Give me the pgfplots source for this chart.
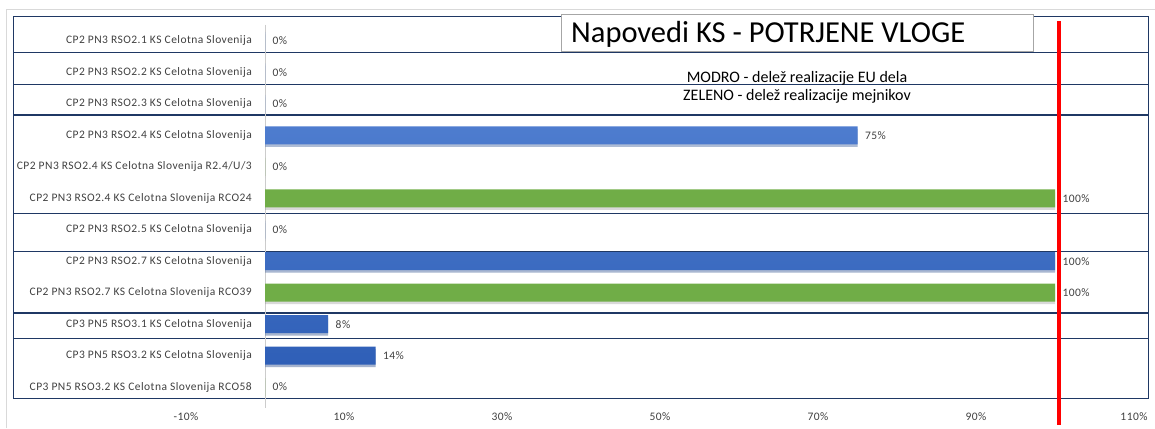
\documentclass[border=0pt]{standalone}
\usepackage{pgfplots}
\pgfplotsset{compat=1.18}
\usetikzlibrary{shadows}
\usepackage{fontspec}
\setmainfont{Carlito}
\newfontfamily\lblfont[LetterSpace=4]{Carlito}
\definecolor{barblue}{HTML}{4472C4}
\definecolor{barblueT}{HTML}{5A88D8}
\definecolor{barblueB}{HTML}{2F5FB7}
\definecolor{bargreen}{HTML}{70AD47}
\definecolor{boxnavy}{HTML}{1F3864}
\definecolor{lbl}{HTML}{404040}
\begin{document}
\begin{tikzpicture}[x=1pt,y=1pt]
\useasboundingbox (0,0) rectangle (1155,428);
% chart area border
\draw[black!15, line width=1pt] (6,0) -- (6,418) -- (1155,418);
% group boxes
\begin{scope}[boxnavy, line width=0.9pt]
  \draw (13,412) rectangle (1148,30);
  \draw (13,376) -- (1148,376);
  \draw (13,344) -- (1148,344);
  \draw[line width=1.6pt] (13,313) -- (1148,313);
  \draw (13,215) -- (1148,215);
  \draw (13,177) -- (1148,177);
  \draw[line width=1.6pt] (13,115) -- (1148,115);
  \draw (13,90) -- (1148,90);
\end{scope}
% title box
\draw[black!35, fill=white, line width=0.8pt] (561,414) rectangle (1033,377);
\node[anchor=west, inner sep=0pt, font=\fontsize{30.5}{34}\selectfont] at (571,394) {Napovedi KS - POTRJENE VLOGE};
\node[inner sep=0pt, font=\fontsize{16}{18}\selectfont] at (797,350) {MODRO - delež realizacije EU dela};
\node[inner sep=0pt, font=\fontsize{16}{18}\selectfont] at (797,332) {ZELENO - delež realizacije mejnikov};
\begin{axis}[
  at={(186pt,25.2pt)}, anchor=south west,
  scale only axis, width=948pt, height=377.6pt,
  xmin=-10, xmax=110, ymin=-0.5, ymax=11.5,
  y dir=reverse, clip=false,
  axis line style={draw=none}, major tick length=0pt,
  /pgf/number format/assume math mode=true,
  xtick={-10,10,30,50,70,90,110},
  xticklabels={-10\%,10\%,30\%,50\%,70\%,90\%,110\%},
  xticklabel style={anchor=center, yshift=-14pt},
  ytick={0,...,11},
  yticklabels={
    CP2 PN3 RSO2.1 KS Celotna Slovenija,
    CP2 PN3 RSO2.2 KS Celotna Slovenija,
    CP2 PN3 RSO2.3 KS Celotna Slovenija,
    CP2 PN3 RSO2.4 KS Celotna Slovenija,
    CP2 PN3 RSO2.4 KS Celotna Slovenija R2.4/U/3,
    CP2 PN3 RSO2.4 KS Celotna Slovenija RCO24,
    CP2 PN3 RSO2.5 KS Celotna Slovenija,
    CP2 PN3 RSO2.7 KS Celotna Slovenija,
    CP2 PN3 RSO2.7 KS Celotna Slovenija RCO39,
    CP3 PN5 RSO3.1 KS Celotna Slovenija,
    CP3 PN5 RSO3.2 KS Celotna Slovenija,
    CP3 PN5 RSO3.2 KS Celotna Slovenija RCO58},
  yticklabel style={anchor=east, inner sep=0pt, xshift=66pt},
  tick label style={font=\lblfont\fontsize{11.5}{13}\selectfont, text=lbl},
  xbar, bar width=18pt, bar shift=0pt,
  point meta=x,
  nodes near coords={\pgfmathprintnumber{\pgfplotspointmeta}\%},
  every node near coord/.style={anchor=west, xshift=4pt, font=\lblfont\fontsize{11.5}{13}\selectfont, text=lbl},
]
\draw[black!20, line width=1pt] (axis cs:0,-0.52) -- (axis cs:0,11.65);
\addplot[draw=none, top color=barblueT, bottom color=barblueB,
  drop shadow={opacity=0.3, shadow xshift=0pt, shadow yshift=-2.5pt}] coordinates {
  (0,0) (0,1) (0,2) (75,3) (0,6) (100,7) (8,9) (14,10)};
\addplot[draw=none, fill=bargreen,
  drop shadow={opacity=0.3, shadow xshift=0pt, shadow yshift=-2.5pt}] coordinates {
  (0,4) (100,5) (100,8) (0,11)};
\draw[red, line width=4.5pt] (axis cs:100.5,-0.63) -- (axis cs:100.5,12.2);
\end{axis}
\end{tikzpicture}
\end{document}
